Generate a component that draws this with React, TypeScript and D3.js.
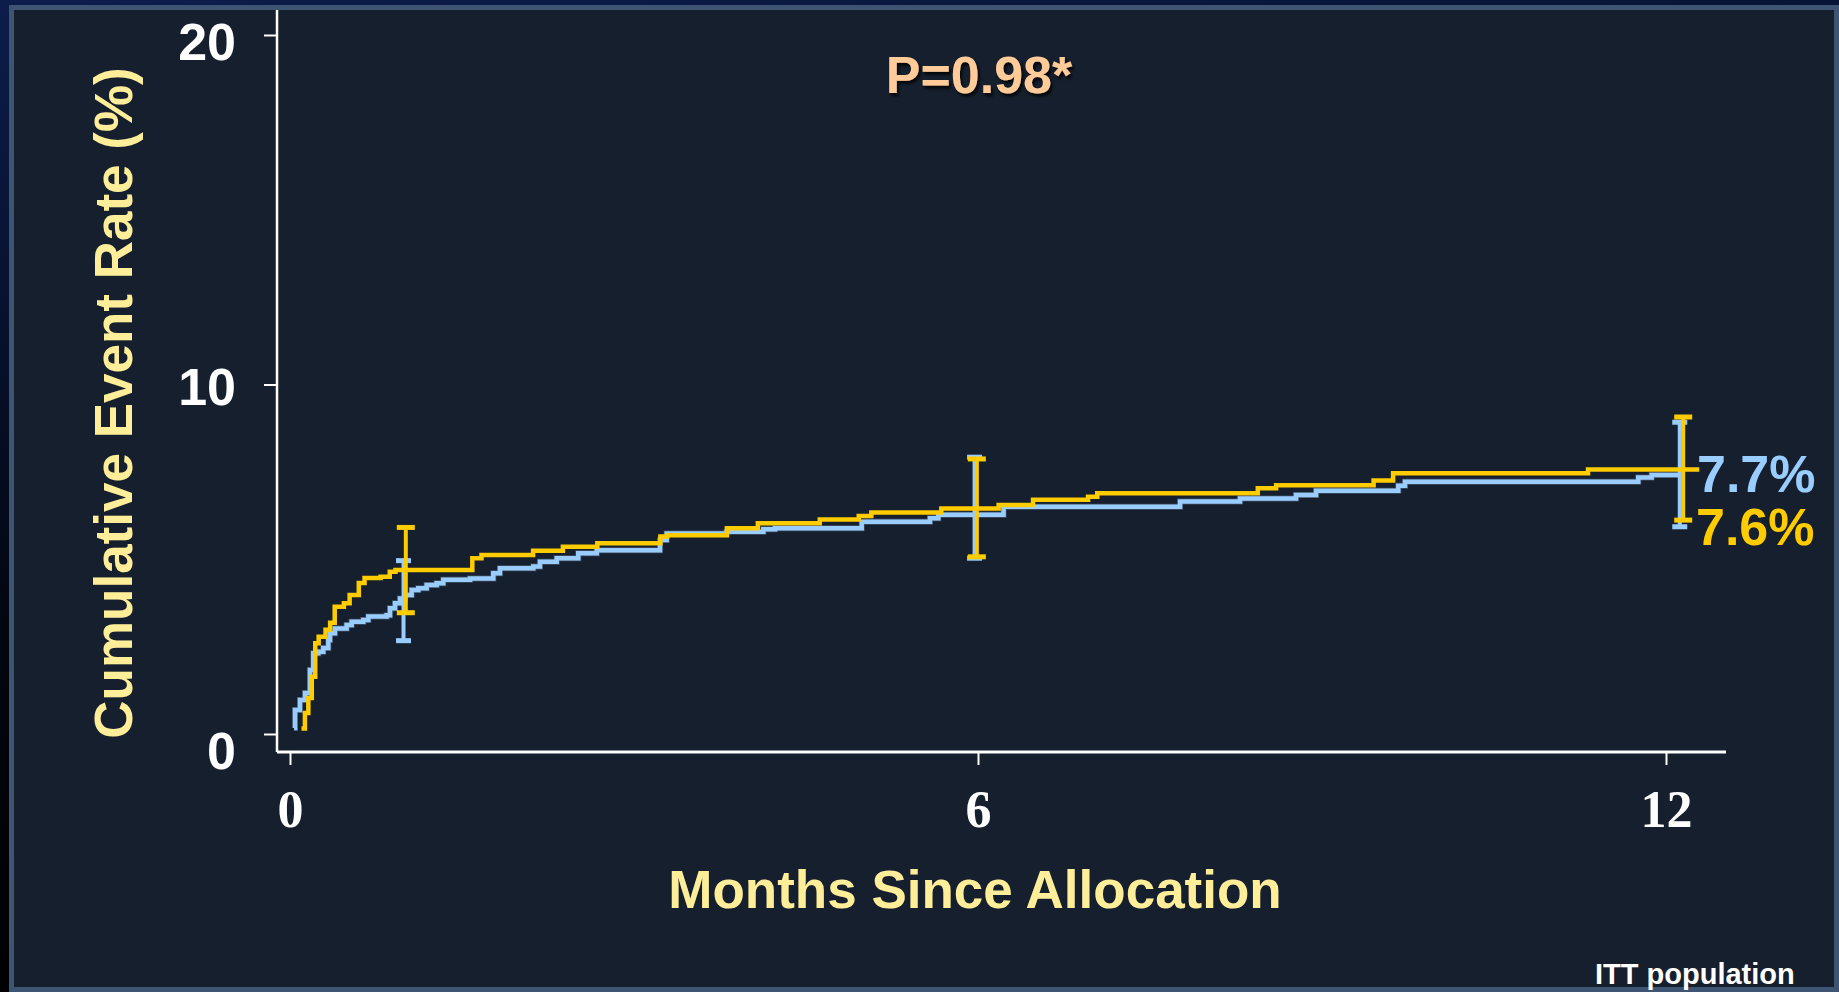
import React, { useEffect, useRef } from "react";
import * as d3 from "d3";

// Kaplan-Meier step curves (months, cumulative %)
const yellowMonths = [0.1, 0.13, 0.16, 0.19, 0.22, 0.25, 0.31, 0.35, 0.39, 0.47, 0.52, 0.6, 0.65, 0.79, 0.87, 0.92, 1.59, 1.67, 2.12, 2.38, 2.68, 3.23, 3.29, 3.81, 4.08, 4.62, 4.96, 5.07, 5.68, 6.18, 6.48, 6.96, 7.04, 8.44, 8.6, 9.45, 9.62, 11.32, 12.29];
const yellowRates = [0.16, 0.6, 1.03, 1.64, 2.6, 2.78, 2.98, 3.18, 3.64, 3.74, 3.98, 4.32, 4.46, 4.5, 4.64, 4.69, 5.03, 5.12, 5.24, 5.36, 5.46, 5.65, 5.69, 5.89, 6.03, 6.14, 6.24, 6.34, 6.45, 6.55, 6.7, 6.79, 6.89, 7.03, 7.12, 7.25, 7.46, 7.57, 7.57];

const blueMonths = [0.035, 0.044, 0.087, 0.131, 0.174, 0.203, 0.247, 0.29, 0.334, 0.349, 0.392, 0.494, 0.538, 0.639, 0.683, 0.843, 0.872, 0.916, 0.959, 1.003, 1.061, 1.119, 1.192, 1.279, 1.337, 1.57, 1.773, 1.831, 2.122, 2.18, 2.326, 2.514, 2.675, 3.227, 3.285, 3.808, 4.128, 4.23, 4.986, 5.581, 5.654, 6.223, 7.762, 8.285, 8.773, 8.948, 9.665, 9.724, 11.758, 11.875, 12.12];
const blueRates = [0.17, 0.69, 0.97, 1.17, 1.83, 2.31, 2.35, 2.46, 2.69, 2.88, 3.02, 3.12, 3.21, 3.26, 3.36, 3.4, 3.6, 3.74, 3.88, 3.98, 4.12, 4.17, 4.26, 4.31, 4.41, 4.45, 4.6, 4.74, 4.79, 4.93, 5.03, 5.17, 5.26, 5.55, 5.74, 5.79, 5.86, 5.89, 6.07, 6.17, 6.27, 6.5, 6.65, 6.74, 6.84, 6.96, 7.1, 7.22, 7.34, 7.41, 7.41];

// confidence intervals at 1, 6 and 12 months
const yellowErrMonths = [1.01, 5.99, 12.15];
const yellowErrLow = [3.47, 5.07, 6.12];
const yellowErrHigh = [5.91, 7.87, 9.07];
const blueErrMonths = [0.99, 5.97, 12.12];
const blueErrLow = [2.67, 5.03, 5.93];
const blueErrHigh = [4.96, 7.92, 8.92];

const xTicks = [0, 6, 12];
const yTicks = [0, 10, 20];

const YELLOW = "#FFCC00";
const BLUE = "#99CCFF";
const TITLE = "#FFEE99";
const SANS = "'Liberation Sans', Arial, sans-serif";
const SERIF = "'Liberation Serif', 'Times New Roman', serif";

const W = 1839;
const H = 992;

export default function App() {
  const svgRef = useRef<SVGSVGElement>(null);

  useEffect(() => {
    const svg = d3.select(svgRef.current);
    svg.selectAll("*").remove();

    const defs = svg.append("defs");
    const grad = defs
      .append("linearGradient")
      .attr("id", "outer")
      .attr("x1", 0)
      .attr("y1", 0)
      .attr("x2", 0.25)
      .attr("y2", 1);
    grad.append("stop").attr("offset", "0%").attr("stop-color", "#0c1d4c");
    grad.append("stop").attr("offset", "60%").attr("stop-color", "#020610");
    grad.append("stop").attr("offset", "100%").attr("stop-color", "#000");

    const shadow = defs.append("filter").attr("id", "shadow");
    shadow
      .append("feDropShadow")
      .attr("dx", 2)
      .attr("dy", 3)
      .attr("stdDeviation", 1.5)
      .attr("flood-color", "#000")
      .attr("flood-opacity", 0.8);

    // slide background + panel
    svg.append("rect").attr("width", W).attr("height", H).attr("fill", "url(#outer)");
    svg
      .append("rect")
      .attr("x", 9)
      .attr("y", 5)
      .attr("width", W - 9)
      .attr("height", H - 5)
      .attr("fill", "#151f2d");

    const x = d3.scaleLinear().domain([0, 12]).range([290, 1666]);
    const y = d3.scaleLinear().domain([0, 20]).range([734, 35]);
    const axisX = 277;
    const axisY = 752;

    // axes
    const gx = svg
      .append("g")
      .attr("transform", `translate(0,${axisY})`)
      .call(d3.axisBottom(x).tickValues(xTicks).tickSize(13).tickSizeOuter(0).tickFormat(d3.format("d")));
    gx.select(".domain").remove();
    gx.selectAll("line").attr("stroke", "#fff").attr("stroke-width", 2);
    gx.selectAll("text")
      .attr("y", 75)
      .attr("dy", 0)
      .attr("fill", "#fff")
      .style("font-family", SERIF)
      .style("font-weight", "bold")
      .style("font-size", "52px");

    const gy = svg
      .append("g")
      .attr("transform", `translate(${axisX},0)`)
      .call(d3.axisLeft(y).tickValues(yTicks).tickSize(13).tickPadding(28).tickSizeOuter(0));
    gy.select(".domain").remove();
    gy.selectAll("line").attr("stroke", "#fff").attr("stroke-width", 2);
    gy.selectAll("text")
      .attr("dy", (d: any) => (d === 0 ? 34 : d === 10 ? 20 : 24))
      .attr("fill", "#fff")
      .style("font-family", SANS)
      .style("font-weight", "bold")
      .style("font-size", "52px");

    svg
      .append("line")
      .attr("x1", axisX)
      .attr("x2", 1726)
      .attr("y1", axisY)
      .attr("y2", axisY)
      .attr("stroke", "#fff")
      .attr("stroke-width", 3);
    svg
      .append("line")
      .attr("x1", axisX)
      .attr("x2", axisX)
      .attr("y1", 6)
      .attr("y2", axisY)
      .attr("stroke", "#fff")
      .attr("stroke-width", 2.5);

    const line = d3
      .line<[number, number]>()
      .x((d) => x(d[0]))
      .y((d) => y(d[1]))
      .curve(d3.curveStepAfter);

    const blue: [number, number][] = blueMonths.map((m, i) => [m, blueRates[i]]);
    const yellow: [number, number][] = yellowMonths.map((m, i) => [m, yellowRates[i]]);

    const errBars = (months: number[], lo: number[], hi: number[], color: string, capW: number) => {
      const g = svg.append("g");
      months.forEach((m, i) => {
        g.append("line")
          .attr("x1", x(m))
          .attr("x2", x(m))
          .attr("y1", y(lo[i]))
          .attr("y2", y(hi[i]))
          .attr("stroke", color)
          .attr("stroke-width", 4);
        [lo[i], hi[i]].forEach((v) => {
          g.append("rect")
            .attr("x", x(m) - capW / 2)
            .attr("y", y(v) - 2.5)
            .attr("width", capW)
            .attr("height", 5)
            .attr("fill", color);
        });
      });
    };

    // blue series (drawn first, underneath)
    svg
      .append("path")
      .attr("d", line(blue))
      .attr("fill", "none")
      .attr("stroke", "#5d7488")
      .attr("stroke-width", 6)
      .attr("opacity", 0.6);
    svg
      .append("path")
      .attr("d", line(blue))
      .attr("fill", "none")
      .attr("stroke", BLUE)
      .attr("stroke-width", 4.5);
    errBars(blueErrMonths, blueErrLow, blueErrHigh, BLUE, 15);

    // yellow series
    svg
      .append("path")
      .attr("d", line(yellow))
      .attr("fill", "none")
      .attr("stroke", YELLOW)
      .attr("stroke-width", 4.5);
    errBars(yellowErrMonths, yellowErrLow, yellowErrHigh, YELLOW, 18);

    // end labels
    svg
      .append("text")
      .attr("x", 1697)
      .attr("y", 492)
      .attr("fill", BLUE)
      .style("font-family", SANS)
      .style("font-weight", "bold")
      .style("font-size", "52px")
      .text("7.7%");
    svg
      .append("text")
      .attr("x", 1696)
      .attr("y", 545)
      .attr("fill", YELLOW)
      .style("font-family", SANS)
      .style("font-weight", "bold")
      .style("font-size", "52px")
      .text("7.6%");

    svg
      .append("text")
      .attr("x", 979)
      .attr("y", 93)
      .attr("text-anchor", "middle")
      .attr("fill", "#FFCC99")
      .attr("filter", "url(#shadow)")
      .style("font-family", SANS)
      .style("font-weight", "bold")
      .style("font-size", "52px")
      .text("P=0.98*");

    // axis titles
    svg
      .append("text")
      .attr("x", 975)
      .attr("y", 908)
      .attr("text-anchor", "middle")
      .attr("fill", TITLE)
      .style("font-family", SANS)
      .style("font-weight", "bold")
      .style("font-size", "53px")
      .text("Months Since Allocation");
    svg
      .append("text")
      .attr("transform", "translate(132,403) rotate(-90)")
      .attr("text-anchor", "middle")
      .attr("fill", TITLE)
      .style("font-family", SANS)
      .style("font-weight", "bold")
      .style("font-size", "53px")
      .text("Cumulative Event Rate (%)");

    // panel border
    svg
      .append("rect")
      .attr("x", 11.5)
      .attr("y", 7.5)
      .attr("width", W - 14)
      .attr("height", H - 10)
      .attr("fill", "none")
      .attr("stroke", "#3d5573")
      .attr("stroke-width", 5);

    svg
      .append("text")
      .attr("x", 1595)
      .attr("y", 984)
      .attr("fill", "#fff")
      .style("font-family", SANS)
      .style("font-weight", "bold")
      .style("font-size", "29px")
      .text("ITT population");
  }, []);

  return (
    <svg
      ref={svgRef}
      width={W}
      height={H}
      style={{ position: "absolute", left: 0, top: 0, display: "block" }}
    />
  );
}
